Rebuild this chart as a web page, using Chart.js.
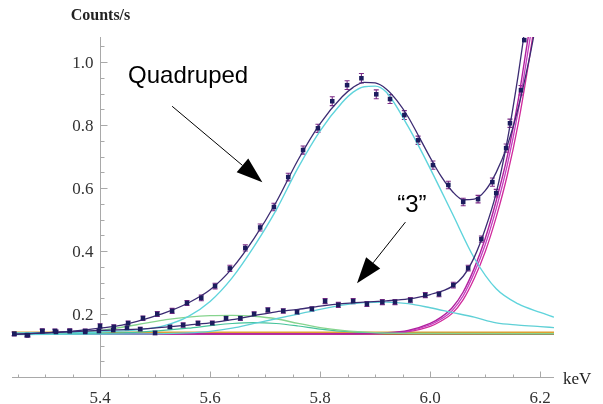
<!DOCTYPE html>
<html>
<head>
<meta charset="utf-8">
<script src="https://cdn.jsdelivr.net/npm/chart.js@4.4.1/dist/chart.umd.min.js"></script>
<style>
  html, body { margin: 0; padding: 0; background: #fff; }
  #wrap { width: 603px; height: 404px; }
</style>
</head>
<body>
<div id="wrap"><canvas id="spectrum" width="603" height="404"></canvas></div>
<script>
// measured points (keV, counts/s) and their error bars
const upperX = [5.244, 5.267, 5.295, 5.318, 5.345, 5.373, 5.400, 5.425, 5.451, 5.478, 5.504, 5.531, 5.558, 5.584, 5.609, 5.636, 5.664, 5.691, 5.716, 5.742, 5.769, 5.796, 5.822, 5.849, 5.875, 5.902, 5.927, 5.953, 5.978, 6.005, 6.033, 6.060, 6.087, 6.113, 6.138, 6.165];
const upperY = [0.137, 0.133, 0.146, 0.146, 0.146, 0.146, 0.162, 0.159, 0.171, 0.187, 0.200, 0.210, 0.235, 0.251, 0.289, 0.345, 0.410, 0.475, 0.540, 0.635, 0.721, 0.790, 0.876, 0.927, 0.949, 0.898, 0.883, 0.832, 0.752, 0.673, 0.610, 0.556, 0.565, 0.619, 0.727, 0.911];
const upperErr = [0.006, 0.006, 0.006, 0.006, 0.006, 0.006, 0.007, 0.007, 0.007, 0.007, 0.008, 0.008, 0.008, 0.009, 0.009, 0.010, 0.010, 0.011, 0.012, 0.012, 0.013, 0.013, 0.014, 0.014, 0.015, 0.014, 0.014, 0.014, 0.013, 0.013, 0.012, 0.012, 0.012, 0.013, 0.013, 0.015];

const lowerX = [5.244, 5.269, 5.295, 5.320, 5.345, 5.373, 5.398, 5.424, 5.449, 5.473, 5.500, 5.527, 5.551, 5.578, 5.604, 5.629, 5.655, 5.680, 5.705, 5.733, 5.758, 5.785, 5.809, 5.833, 5.860, 5.885, 5.913, 5.936, 5.964, 5.991, 6.016, 6.042, 6.069, 6.093, 6.120, 6.145, 6.171];
const lowerY = [0.137, 0.133, 0.146, 0.143, 0.146, 0.143, 0.146, 0.149, 0.156, 0.152, 0.140, 0.159, 0.165, 0.171, 0.171, 0.187, 0.187, 0.200, 0.213, 0.210, 0.206, 0.216, 0.241, 0.229, 0.241, 0.232, 0.238, 0.238, 0.244, 0.260, 0.263, 0.292, 0.346, 0.438, 0.584, 0.806, 1.070];
const lowerErr = [0.006, 0.006, 0.006, 0.006, 0.006, 0.006, 0.006, 0.006, 0.006, 0.006, 0.006, 0.006, 0.007, 0.007, 0.007, 0.007, 0.007, 0.007, 0.007, 0.007, 0.007, 0.007, 0.008, 0.008, 0.008, 0.008, 0.008, 0.008, 0.008, 0.008, 0.008, 0.009, 0.009, 0.010, 0.012, 0.013, 0.015];

// fitted curves
const upperFitX = [5.24, 5.30, 5.36, 5.40, 5.44, 5.48, 5.52, 5.56, 5.60, 5.64, 5.68, 5.72, 5.76, 5.80, 5.84, 5.86, 5.88, 5.90, 5.92, 5.94, 5.96, 5.98, 6.00, 6.02, 6.04, 6.06, 6.08, 6.10, 6.12, 6.14, 6.16, 6.18, 6.19];
const upperFitY = [0.135, 0.140, 0.147, 0.155, 0.165, 0.183, 0.205, 0.235, 0.277, 0.345, 0.440, 0.555, 0.690, 0.805, 0.890, 0.920, 0.936, 0.934, 0.915, 0.877, 0.826, 0.762, 0.697, 0.637, 0.590, 0.563, 0.565, 0.592, 0.650, 0.735, 0.855, 1.010, 1.100];

const lowerFitX = [5.24, 5.30, 5.40, 5.48, 5.56, 5.60, 5.64, 5.68, 5.72, 5.76, 5.80, 5.84, 5.88, 5.92, 5.96, 6.00, 6.04, 6.06, 6.08, 6.10, 6.12, 6.14, 6.16, 6.17];
const lowerFitY = [0.135, 0.140, 0.148, 0.153, 0.165, 0.172, 0.182, 0.195, 0.207, 0.215, 0.225, 0.233, 0.238, 0.242, 0.248, 0.262, 0.288, 0.320, 0.380, 0.470, 0.585, 0.750, 0.960, 1.080];

const quadX = [5.24, 5.40, 5.48, 5.52, 5.56, 5.60, 5.64, 5.68, 5.72, 5.76, 5.80, 5.84, 5.86, 5.88, 5.90, 5.92, 5.96, 6.00, 6.04, 6.08, 6.12, 6.16, 6.20, 6.225];
const quadY = [0.140, 0.143, 0.152, 0.165, 0.192, 0.240, 0.315, 0.415, 0.530, 0.665, 0.782, 0.872, 0.905, 0.922, 0.924, 0.905, 0.795, 0.662, 0.520, 0.378, 0.280, 0.232, 0.205, 0.190];

const threeX = [5.24, 5.50, 5.56, 5.60, 5.64, 5.68, 5.72, 5.76, 5.80, 5.84, 5.88, 5.92, 5.96, 6.00, 6.04, 6.08, 6.12, 6.16, 6.20, 6.225];
const threeY = [0.135, 0.137, 0.140, 0.145, 0.155, 0.170, 0.185, 0.200, 0.215, 0.228, 0.236, 0.238, 0.233, 0.220, 0.205, 0.190, 0.172, 0.165, 0.160, 0.157];

const greenAX = [5.24, 5.36, 5.40, 5.44, 5.48, 5.52, 5.56, 5.60, 5.64, 5.68, 5.72, 5.76, 5.80, 5.84, 5.90, 6.00, 6.225];
const greenAY = [0.138, 0.142, 0.148, 0.158, 0.170, 0.182, 0.190, 0.195, 0.196, 0.193, 0.185, 0.170, 0.157, 0.148, 0.141, 0.138, 0.138];
const greenBX = [5.24, 5.44, 5.50, 5.56, 5.60, 5.64, 5.68, 5.72, 5.76, 5.80, 5.86, 5.94, 6.225];
const greenBY = [0.137, 0.140, 0.146, 0.155, 0.163, 0.170, 0.173, 0.170, 0.162, 0.152, 0.143, 0.139, 0.138];

const tailX = [5.24, 5.80, 5.88, 5.92, 5.96, 6.00, 6.02, 6.04, 6.06, 6.08, 6.10, 6.12, 6.14, 6.16, 6.18, 6.20];
const tail1Y = [0.137, 0.137, 0.138, 0.140, 0.148, 0.170, 0.190, 0.220, 0.270, 0.345, 0.440, 0.560, 0.700, 0.880, 1.100, 1.300];
const tail2Y = [0.137, 0.137, 0.138, 0.139, 0.146, 0.166, 0.184, 0.211, 0.258, 0.330, 0.420, 0.535, 0.672, 0.845, 1.060, 1.270];
const tail3Y = [0.137, 0.137, 0.137, 0.139, 0.144, 0.161, 0.178, 0.202, 0.246, 0.313, 0.398, 0.508, 0.640, 0.805, 1.010, 1.240];

const baseX = [5.24, 6.225];
const baseOrangeY = [0.141, 0.141];
const baseOliveY = [0.139, 0.139];
const baseRedY = [0.137, 0.137];

// axes
const xMajor = [5.4, 5.6, 5.8, 6.0, 6.2];
const xMajorLabels = ['5.4', '5.6', '5.8', '6.0', '6.2'];
const yMajor = [0.2, 0.4, 0.6, 0.8, 1.0];
const yMajorLabels = ['0.2', '0.4', '0.6', '0.8', '1.0'];
const xCross = 5.4;

const pts = (xs, ys) => xs.map((x, i) => ({ x, y: ys[i] }));

const curve = (xs, ys, color, width) => ({
    data: pts(xs, ys),
    showLine: true,
    borderColor: color,
    borderWidth: width,
    pointRadius: 0,
    cubicInterpolationMode: 'monotone',
    fill: false,
});

const errorBars = {
    id: 'errorBars',
    beforeDatasetsDraw(chart) {
        const { ctx, scales: { x, y } } = chart;
        ctx.save();
        ctx.strokeStyle = '#7b2a86';
        ctx.lineWidth = 1.1;
        [[upperX, upperY, upperErr], [lowerX, lowerY, lowerErr]].forEach(([xs, ys, es]) => {
            xs.forEach((v, i) => {
                const px = x.getPixelForValue(v);
                const top = y.getPixelForValue(ys[i] + es[i]);
                const bot = y.getPixelForValue(ys[i] - es[i]);
                if (top < y.top) return;
                ctx.beginPath();
                ctx.moveTo(px, top); ctx.lineTo(px, bot);
                ctx.moveTo(px - 2.5, top); ctx.lineTo(px + 2.5, top);
                ctx.moveTo(px - 2.5, bot); ctx.lineTo(px + 2.5, bot);
                ctx.stroke();
            });
        });
        ctx.restore();
    }
};

const axesPlugin = {
    id: 'mmaAxes',
    beforeDatasetsDraw(chart) {
        const { ctx, scales: { x, y } } = chart;
        const x0 = Math.round(x.getPixelForValue(xCross)) + 0.5;
        const y0 = Math.round(y.getPixelForValue(0)) + 0.5;
        ctx.save();
        ctx.strokeStyle = '#a9a9a9';
        ctx.lineWidth = 1;
        ctx.beginPath();
        ctx.moveTo(x.left, y0); ctx.lineTo(x.right, y0);
        ctx.moveTo(x0, y.top); ctx.lineTo(x0, y0);
        for (let v = 5.25; v <= 6.2251; v += 0.05) {
            const px = Math.round(x.getPixelForValue(v)) + 0.5;
            const major = xMajor.some(m => Math.abs(m - v) < 1e-6);
            ctx.moveTo(px, y0); ctx.lineTo(px, y0 - (major ? 6 : 3));
        }
        for (let v = 0.05; v <= 1.0801; v += 0.05) {
            const py = Math.round(y.getPixelForValue(v)) + 0.5;
            const major = yMajor.some(m => Math.abs(m - v) < 1e-6);
            ctx.moveTo(x0, py); ctx.lineTo(x0 + (major ? 7 : 4), py);
        }
        ctx.stroke();

        ctx.fillStyle = '#333';
        ctx.font = '17px "Liberation Serif", "DejaVu Serif", serif';
        ctx.textAlign = 'center';
        ctx.textBaseline = 'alphabetic';
        xMajor.forEach((v, i) => ctx.fillText(xMajorLabels[i], x.getPixelForValue(v), y0 + 25));
        ctx.textAlign = 'right';
        ctx.textBaseline = 'middle';
        yMajor.forEach((v, i) => ctx.fillText(yMajorLabels[i], x0 - 7, y.getPixelForValue(v) + 1));

        ctx.fillStyle = '#222';
        ctx.textAlign = 'left';
        ctx.textBaseline = 'middle';
        ctx.font = '17px "Liberation Serif", serif';
        ctx.fillText('keV', x.right + 9, y0 + 2);
        ctx.textAlign = 'center';
        ctx.textBaseline = 'alphabetic';
        ctx.font = 'bold 16px "Liberation Serif", serif';
        ctx.fillText('Counts/s', x0, 20);
        ctx.restore();
    }
};

const notes = [
    { text: 'Quadruped', x: 5.451, y: 0.933, from: [5.531, 0.860], to: [5.695, 0.619] },
    { text: '\u201C3\u201D', x: 5.94, y: 0.524, from: [5.955, 0.492], to: [5.867, 0.298] },
];

const notesPlugin = {
    id: 'notes',
    afterDraw(chart) {
        const { ctx, scales: { x, y } } = chart;
        ctx.save();
        ctx.fillStyle = '#000';
        ctx.strokeStyle = '#000';
        ctx.font = '24px "Liberation Sans", Arial, sans-serif';
        ctx.textAlign = 'left';
        ctx.textBaseline = 'alphabetic';
        notes.forEach(n => {
            ctx.fillText(n.text, x.getPixelForValue(n.x), y.getPixelForValue(n.y));
            const x1 = x.getPixelForValue(n.from[0]), y1 = y.getPixelForValue(n.from[1]);
            const x2 = x.getPixelForValue(n.to[0]), y2 = y.getPixelForValue(n.to[1]);
            const a = Math.atan2(y2 - y1, x2 - x1);
            const len = 26, half = 9;
            const bx = x2 - len * Math.cos(a), by = y2 - len * Math.sin(a);
            ctx.lineWidth = 1;
            ctx.beginPath();
            ctx.moveTo(x1, y1); ctx.lineTo(bx, by);
            ctx.stroke();
            ctx.beginPath();
            ctx.moveTo(x2, y2);
            ctx.lineTo(bx + half * Math.sin(a), by - half * Math.cos(a));
            ctx.lineTo(bx - half * Math.sin(a), by + half * Math.cos(a));
            ctx.closePath();
            ctx.fill();
        });
        ctx.restore();
    }
};

new Chart(document.getElementById('spectrum'), {
    type: 'scatter',
    data: {
        datasets: [
            { data: pts(upperX, upperY), pointStyle: 'rect', pointRadius: 3.2, backgroundColor: '#1c1c5e', borderColor: '#1c1c5e', borderWidth: 0, showLine: false },
            { data: pts(lowerX, lowerY), pointStyle: 'rect', pointRadius: 3.2, backgroundColor: '#1c1c5e', borderColor: '#1c1c5e', borderWidth: 0, showLine: false },
            curve(upperFitX, upperFitY, '#3b2b72', 1.3),
            curve(lowerFitX, lowerFitY, '#3b2b72', 1.3),
            curve(quadX, quadY, '#5fd4dc', 1.4),
            curve(threeX, threeY, '#5fd0d6', 1.3),
            curve(greenAX, greenAY, '#86d48e', 1.3),
            curve(greenBX, greenBY, '#45c39a', 1.2),
            curve(tailX, tail1Y, '#b0209e', 1.4),
            curve(tailX, tail2Y, '#c43cc0', 1.3),
            curve(tailX, tail3Y, '#d02a9c', 1.3),
            curve(baseX, baseOrangeY, '#e0a030', 2),
            curve(baseX, baseOliveY, '#8f8a28', 2),
            curve(baseX, baseRedY, '#a3281a', 2),
        ]
    },
    options: {
        responsive: false,
        animation: false,
        devicePixelRatio: 1,
        layout: { padding: { left: 12, right: 49, top: 37, bottom: 27 } },
        plugins: { legend: { display: false }, tooltip: { enabled: false } },
        scales: {
            x: { type: 'linear', min: 5.24, max: 6.225, display: false },
            y: { type: 'linear', min: 0, max: 1.08, display: false },
        }
    },
    plugins: [axesPlugin, errorBars, notesPlugin]
});
</script>
</body>
</html>
